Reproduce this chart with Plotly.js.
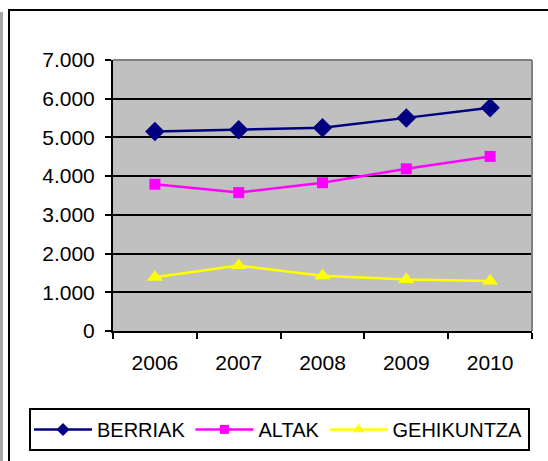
<!DOCTYPE html>
<html>
<head>
<meta charset="utf-8">
<script src="https://cdn.plot.ly/plotly-3.0.1.min.js"></script>
<style>
  html, body { margin: 0; padding: 0; background: #fff; }
  #wrap { position: relative; width: 548px; height: 461px; overflow: hidden; }
  #chart { position: absolute; left: 0; top: 0; width: 548px; height: 461px; }
  #frame { position: absolute; left: 8px; top: 9px; width: 700px; height: 700px;
           border-left: 2px solid #000; border-top: 2px solid #000; pointer-events: none; }
  #edge { position: absolute; left: 0; top: 12px; width: 3px; height: 600px; background: #a6a6a6; pointer-events: none; }
</style>
</head>
<body>
<div id="wrap">
  <div id="chart"></div>
  <div id="frame"></div>
  <div id="edge"></div>
</div>
<script>
const years = ['2006', '2007', '2008', '2009', '2010'];
const berriak = [5150, 5200, 5250, 5505, 5765];
const altak = [3790, 3575, 3830, 4190, 4510];
const gehikuntza = [1390, 1690, 1430, 1330, 1290];
const yTicks = [0, 1000, 2000, 3000, 4000, 5000, 6000, 7000];
const seriesNames = ['BERRIAK', 'ALTAK', 'GEHIKUNTZA'];
const seriesColors = ['#000080', '#FF00FF', '#FFFF00'];
const seriesSymbols = ['diamond', 'square', 'triangle-up'];

const tickFont = { family: '"Liberation Sans", Arial, sans-serif', size: 21, color: '#000' };
const legendFont = { family: '"Liberation Sans", Arial, sans-serif', size: 20, color: '#000' };

const seriesValues = [berriak, altak, gehikuntza];
const plotSizes = [15, 11, 14];
const legendSizes = [10, 9, 11];

const traces = [];
seriesValues.forEach((vals, i) => {
  traces.push({
    x: years, y: vals, name: seriesNames[i], type: 'scatter', mode: 'lines+markers',
    legendgroup: seriesNames[i], showlegend: false,
    line: { color: seriesColors[i], width: 2.5 },
    marker: { symbol: seriesSymbols[i], size: plotSizes[i], color: seriesColors[i] }
  });
});
seriesValues.forEach((vals, i) => {
  traces.push({
    x: [null], y: [null], name: seriesNames[i], type: 'scatter', mode: 'lines+markers',
    legendgroup: seriesNames[i], showlegend: true, hoverinfo: 'skip',
    line: { color: seriesColors[i], width: 2.5 },
    marker: { symbol: seriesSymbols[i], size: legendSizes[i], color: seriesColors[i] }
  });
});

const layout = {
  width: 548, height: 461,
  margin: { l: 113, r: 16, t: 60, b: 129 },
  paper_bgcolor: '#ffffff',
  plot_bgcolor: '#C0C0C0',
  separators: ',.',
  font: tickFont,
  showlegend: true,
  legend: {
    orientation: 'h', x: -0.2005, xanchor: 'left', y: -0.279, yanchor: 'top',
    bordercolor: '#000', borderwidth: 2, bgcolor: '#fff', tracegroupgap: 0,
    font: legendFont, itemclick: false, itemwidth: 58
  },
  xaxis: {
    type: 'category', categoryorder: 'array', categoryarray: years,
    range: [-0.5, 4.5], autorange: false,
    tickson: 'boundaries', ticks: 'outside', ticklen: 6, tickwidth: 2, tickcolor: '#000',
    showline: true, linecolor: '#000', linewidth: 2, showgrid: false,
    ticklabelstandoff: 12, tickfont: tickFont, zeroline: false
  },
  yaxis: {
    range: [0, 7000], autorange: false, tickvals: yTicks, tickformat: ',d',
    ticks: 'outside', ticklen: 6, tickwidth: 2, tickcolor: '#000',
    showline: true, linecolor: '#000', linewidth: 2,
    showgrid: true, gridcolor: '#000', gridwidth: 2,
    zeroline: false, tickfont: tickFont, ticklabelstandoff: 6
  },
  shapes: [
    { type: 'line', xref: 'paper', yref: 'paper', x0: 0, x1: 1, y0: 1, y1: 1,
      line: { color: '#808080', width: 2 } },
    { type: 'line', xref: 'paper', yref: 'paper', x0: 1, x1: 1, y0: 0, y1: 1,
      line: { color: '#808080', width: 2 } }
  ]
};

Plotly.newPlot('chart', traces, layout, { staticPlot: true, displayModeBar: false });
</script>
</body>
</html>
